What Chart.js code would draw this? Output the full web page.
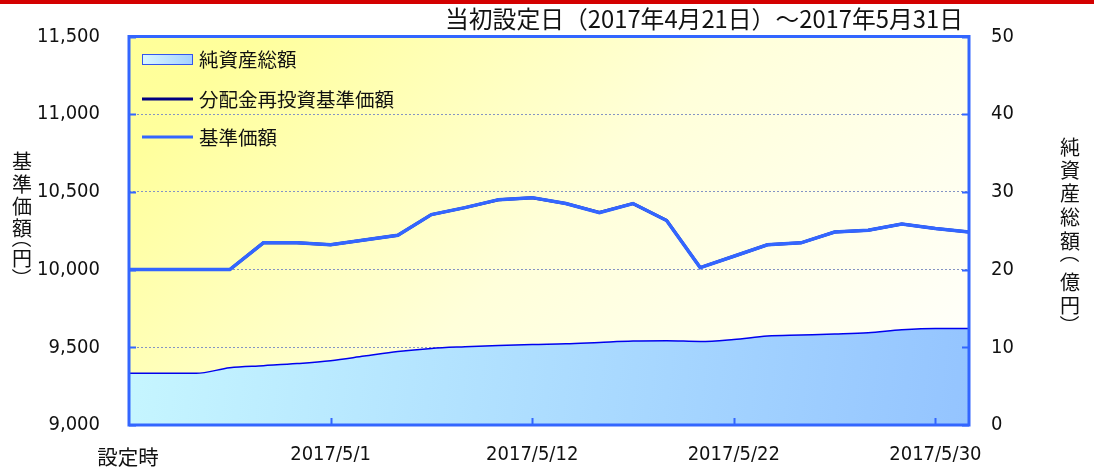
<!DOCTYPE html>
<html><head><meta charset="utf-8">
<script src="https://cdn.jsdelivr.net/npm/chart.js@4"></script>
<style>html,body{margin:0;padding:0;background:#fff;}canvas{display:block;}</style>
</head><body>
<canvas id="c" width="1094" height="468"></canvas>
<script>
// ---- data ----
const dates = ['2017/4/21','2017/4/24','2017/4/25','2017/4/26','2017/4/27','2017/4/28','2017/5/1','2017/5/2','2017/5/8','2017/5/9','2017/5/10','2017/5/11','2017/5/12','2017/5/15','2017/5/16','2017/5/17','2017/5/18','2017/5/19','2017/5/22','2017/5/23','2017/5/24','2017/5/25','2017/5/26','2017/5/29','2017/5/30','2017/5/31'];
const navValues = [10000,10000,10000,10000,10172,10172,10160,10191,10221,10354,10399,10450,10463,10425,10367,10425,10316,10013,10086,10160,10172,10242,10253,10294,10264,10242];
const reinvestedNav = [10000,10000,10000,10000,10172,10172,10160,10191,10221,10354,10399,10450,10463,10425,10367,10425,10316,10013,10086,10160,10172,10242,10253,10294,10264,10242];
const netAssets = [6.65,6.65,6.65,7.37,7.63,7.9,8.27,8.87,9.47,9.86,10.07,10.24,10.37,10.45,10.63,10.8,10.84,10.75,11.01,11.44,11.57,11.7,11.87,12.25,12.43,12.43];
const tickIndexes = [0,6,12,18,24];
const tickTexts = ['設定時','2017/5/1','2017/5/12','2017/5/22','2017/5/30'];
const navTicks = [9000,9500,10000,10500,11000,11500];
const assetTicks = [0,10,20,30,40,50];
const titleText = '当初設定日（2017年4月21日）～2017年5月31日';
const leftTitle = ['基','準','価','額','（','円','）'];
const rightTitle = ['純','資','産','総','額','（','億','円','）'];
const legendLabels = ['純資産総額','分配金再投資基準価額','基準価額'];

const NUMFONT = '"DejaVu Sans Condensed","Liberation Sans","Noto Sans CJK JP",sans-serif';
const CJK = '"Noto Sans CJK JP",sans-serif';
const BLUE = '#3366ff';

// vertical (stacked) text; brackets are turned to their vertical form
function vertText(ctx, chars, x, ys) {
  chars.forEach((ch, i) => {
    const y = ys[i];
    if (ch === '（' || ch === '）') {
      ctx.save();
      ctx.translate(x, y + (ch === '（' ? -6 : 6));
      ctx.rotate(Math.PI / 2);
      ctx.fillText(ch, 0, 0);
      ctx.restore();
    } else {
      ctx.fillText(ch, x, y);
    }
  });
}

const decor = {
  id: 'decor',
  beforeDraw(chart) {
    const {ctx, chartArea: a} = chart;
    ctx.save();
    ctx.fillStyle = '#ffffff';
    ctx.fillRect(0, 0, chart.width, chart.height);
    ctx.fillStyle = '#d40000';
    ctx.fillRect(0, 0, chart.width, 4);
    const d = ((a.right - a.left) + (a.bottom - a.top)) / 2;
    const g = ctx.createLinearGradient(a.left, a.top, a.left + d, a.top + d);
    g.addColorStop(0, '#ffff99');
    g.addColorStop(0.1, '#ffff9c');
    g.addColorStop(0.5, '#ffffda');
    g.addColorStop(1, '#ffffff');
    ctx.fillStyle = g;
    ctx.fillRect(a.left, a.top, a.right - a.left, a.bottom - a.top);
    ctx.restore();
  },
  afterDatasetsDraw(chart) {
    const {ctx, chartArea: a, scales} = chart;
    ctx.save();
    ctx.strokeStyle = BLUE;
    ctx.lineWidth = 3;
    ctx.strokeRect(a.left, a.top, a.right - a.left, a.bottom - a.top);
    ctx.lineWidth = 2;
    ctx.beginPath();
    navTicks.forEach(v => {
      const y = Math.round(scales.y.getPixelForValue(v)) + 0.5;
      ctx.moveTo(a.left, y); ctx.lineTo(a.left + 7, y);
    });
    assetTicks.forEach(v => {
      const y = Math.round(scales.y2.getPixelForValue(v)) + 0.5;
      ctx.moveTo(a.right, y); ctx.lineTo(a.right - 7, y);
    });
    tickIndexes.slice(1).forEach(i => {
      const x = Math.round(scales.x.getPixelForValue(i)) + 0.5;
      ctx.moveTo(x, a.bottom); ctx.lineTo(x, a.bottom - 7);
    });
    ctx.stroke();
    ctx.restore();
  },
  afterDraw(chart) {
    const {ctx, chartArea: a, scales} = chart;
    ctx.save();
    ctx.fillStyle = '#111111';
    // title
    ctx.font = '24px ' + CJK;
    ctx.textAlign = 'right';
    ctx.textBaseline = 'middle';
    ctx.fillText(titleText, 963, 19, 518);
    // first category label (setup date), set lower than the date labels
    ctx.font = '20.5px ' + CJK;
    ctx.textAlign = 'center';
    ctx.fillText(tickTexts[0], scales.x.getPixelForValue(tickIndexes[0]) - 1, 457);
    // axis titles
    ctx.font = '20px ' + CJK;
    vertText(ctx, leftTitle, 22, [161, 184, 206, 228, 244, 258, 272]);
    vertText(ctx, rightTitle, 1070, [147, 170, 193, 217, 241, 259, 282, 305, 319]);
    // legend
    const lx = 142, lw = 51;
    const rows = [59, 99, 137];
    const g = ctx.createLinearGradient(lx, 0, lx + lw, 0);
    g.addColorStop(0, '#daf7ff');
    g.addColorStop(1, '#a4d0ff');
    ctx.fillStyle = g;
    ctx.fillRect(lx, rows[0] - 5, lw, 10);
    ctx.strokeStyle = '#3355ee';
    ctx.lineWidth = 1;
    ctx.strokeRect(lx + 0.5, rows[0] - 5 + 0.5, lw - 1, 10);
    ctx.lineWidth = 3;
    ctx.strokeStyle = '#000080';
    ctx.beginPath(); ctx.moveTo(lx, rows[1]); ctx.lineTo(lx + lw, rows[1]); ctx.stroke();
    ctx.strokeStyle = BLUE;
    ctx.beginPath(); ctx.moveTo(lx, rows[2]); ctx.lineTo(lx + lw, rows[2]); ctx.stroke();
    ctx.fillStyle = '#111111';
    ctx.font = '19.5px ' + CJK;
    ctx.textAlign = 'left';
    legendLabels.forEach((t, i) => ctx.fillText(t, 199, rows[i] + 1));
    ctx.restore();
  }
};

new Chart(document.getElementById('c'), {
  type: 'line',
  data: {
    labels: dates,
    datasets: [
      {
        label: legendLabels[2], data: navValues, yAxisID: 'y', order: 1,
        borderColor: BLUE, borderWidth: 3.5, pointRadius: 0, tension: 0, fill: false
      },
      {
        label: legendLabels[1], data: reinvestedNav, yAxisID: 'y', order: 2,
        borderColor: '#000080', borderWidth: 3, pointRadius: 0, tension: 0, fill: false
      },
      {
        label: legendLabels[0], data: netAssets, yAxisID: 'y2', order: 3,
        borderColor: '#0000ee', borderWidth: 1.5, pointRadius: 0,
        cubicInterpolationMode: 'monotone',
        fill: 'origin',
        backgroundColor: (c) => {
          const a = c.chart.chartArea;
          if (!a) return '#b8e8ff';
          const g = c.chart.ctx.createLinearGradient(a.left, 320, a.right, a.bottom);
          g.addColorStop(0, '#c6f6ff');
          g.addColorStop(1, '#94c4ff');
          return g;
        }
      }
    ]
  },
  options: {
    responsive: false,
    animation: false,
    layout: { padding: { top: 36.5, left: 0, right: 0, bottom: 0 } },
    plugins: { legend: { display: false }, tooltip: { enabled: false } },
    scales: {
      x: {
        type: 'category', offset: false,
        grid: { display: false, drawTicks: false },
        border: { display: false },
        afterFit: s => { s.height = 43; },
        ticks: {
          autoSkip: false, maxRotation: 0, minRotation: 0, padding: 18,
          color: '#111111', font: { family: NUMFONT, size: 20 },
          callback: (v, i) => { const k = tickIndexes.indexOf(i); return k > 0 ? tickTexts[k] : ''; }
        }
      },
      y: {
        position: 'left', min: 9000, max: 11500,
        afterBuildTicks: s => { s.ticks = navTicks.map(v => ({ value: v })); },
        afterFit: s => { s.width = 129; s.paddingTop = 12; s.paddingBottom = 12; },
        grid: { color: '#8494c4', lineWidth: 1, drawTicks: false, borderDash: [2, 2] },
        border: { display: false, dash: [2, 2] },
        ticks: {
          padding: 29, color: '#111111', font: { family: NUMFONT, size: 20 },
          callback: v => v.toLocaleString('en-US')
        }
      },
      y2: {
        position: 'right', min: 0, max: 50,
        afterBuildTicks: s => { s.ticks = assetTicks.map(v => ({ value: v })); },
        afterFit: s => { s.width = 125; s.paddingTop = 12; s.paddingBottom = 12; },
        grid: { display: false, drawTicks: false },
        border: { display: false },
        ticks: {
          padding: 22, color: '#111111', font: { family: NUMFONT, size: 20 },
          callback: v => String(v)
        }
      }
    }
  },
  plugins: [decor]
});
</script>
</body></html>
